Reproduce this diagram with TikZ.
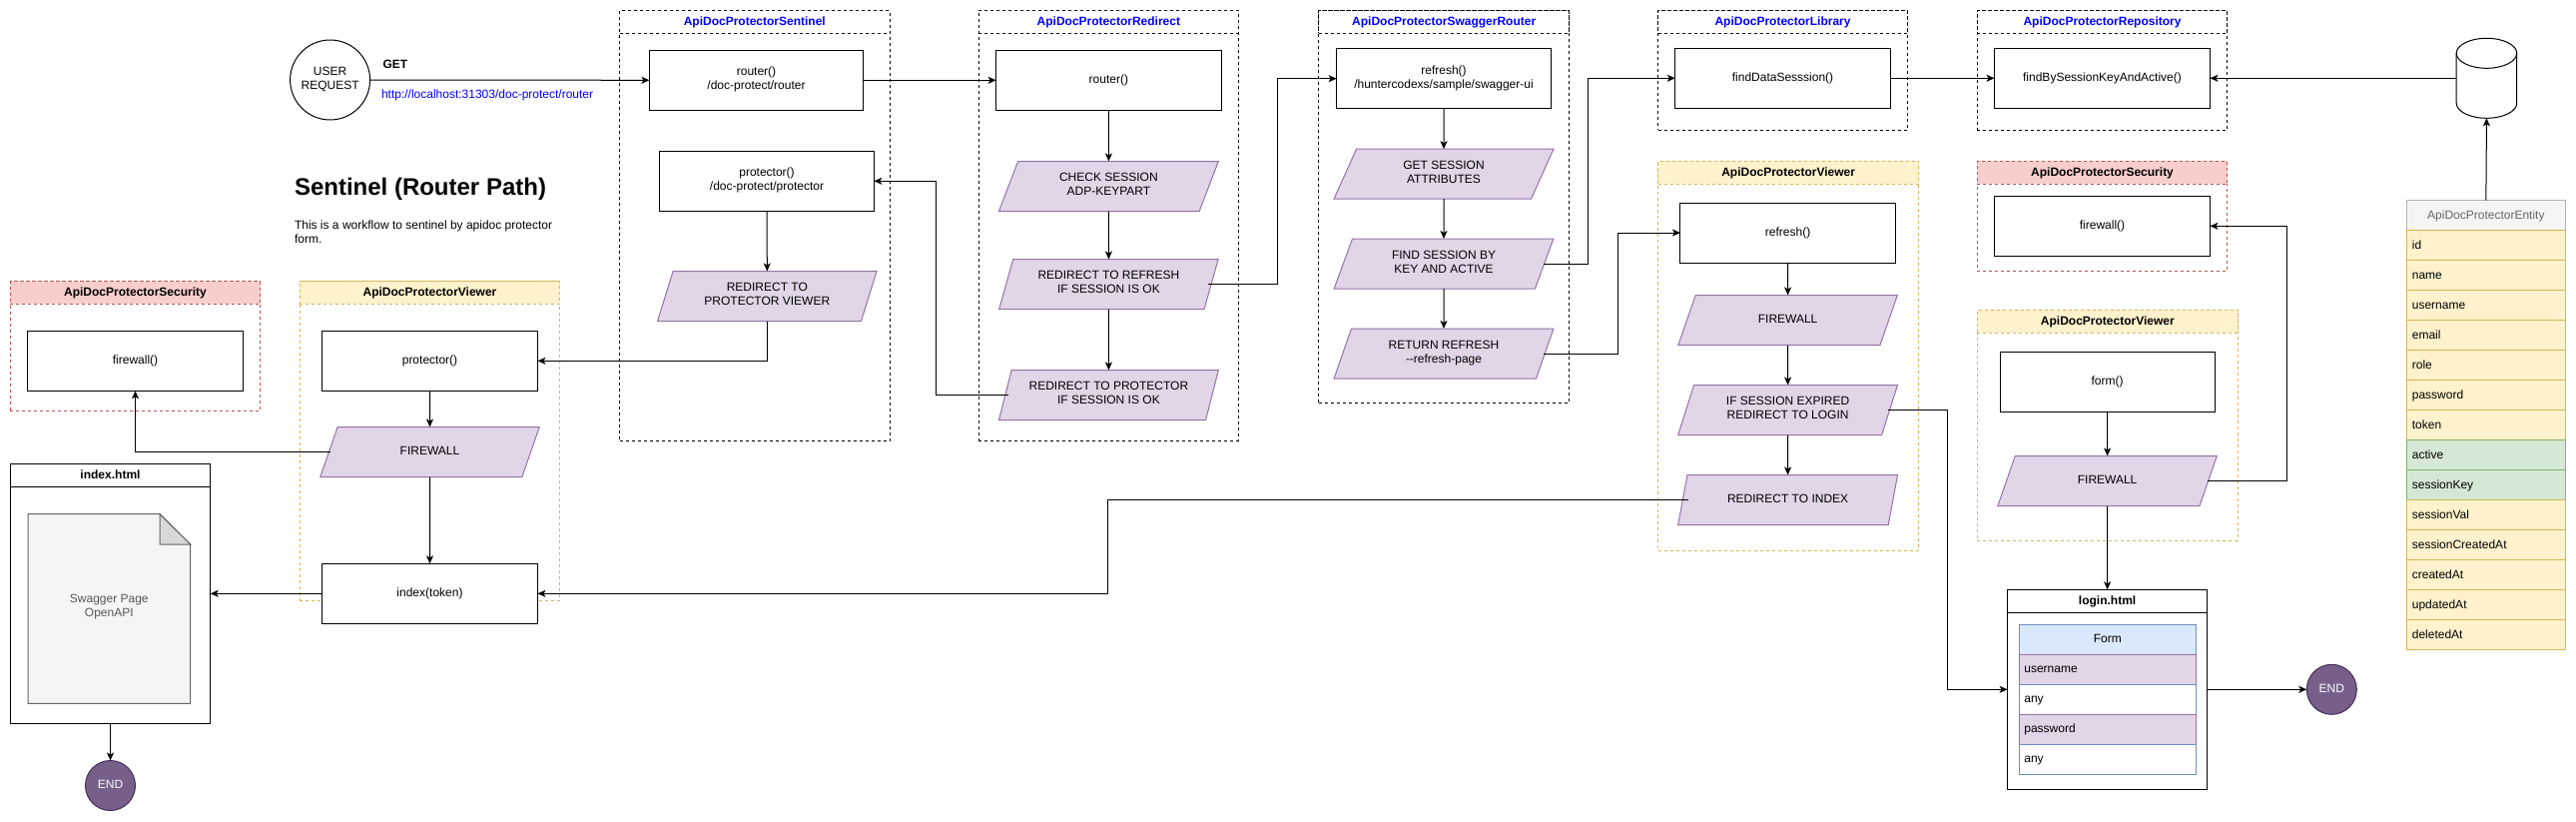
\documentclass[tikz,border=0pt]{standalone}
\usepackage{fontspec}
\setmainfont{Liberation Sans}
\usetikzlibrary{arrows.meta,shapes.geometric,shapes.misc}
\definecolor{purpfill}{HTML}{E1D5E7}
\definecolor{purpline}{HTML}{9673A6}
\definecolor{yelfill}{HTML}{FFF2CC}
\definecolor{yelline}{HTML}{D6B656}
\definecolor{redfill}{HTML}{F8CECC}
\definecolor{redline}{HTML}{B85450}
\definecolor{grnfill}{HTML}{D5E8D4}
\definecolor{grnline}{HTML}{82B366}
\definecolor{blufill}{HTML}{DAE8FC}
\definecolor{bluline}{HTML}{6C8EBF}
\definecolor{greyfill}{HTML}{F5F5F5}
\definecolor{greyline}{HTML}{666666}
\definecolor{endfill}{HTML}{76608A}
\definecolor{endline}{HTML}{432D57}
\newcommand\bst{\rule[-3.7pt]{0pt}{14pt}}
\newcommand\rst{\rule[-3pt]{0pt}{14pt}}
\tikzset{
  base/.style={inner sep=0pt,outer sep=0pt,align=center,font=\fontsize{12}{14}\selectfont,line width=1pt,
     execute at begin node=\bst,execute at end node=\bst},
  boxn/.style={base,draw=black,fill=white,rectangle},
  para/.style={base,draw=purpline,fill=purpfill,trapezium,trapezium left angle=68.2,trapezium right angle=111.8,
     trapezium stretches=true,minimum width=220pt,minimum height=50pt},
  bodyplain/.style={base,draw=black,rectangle,dash pattern=on 3pt off 3pt},
  bodyyel/.style={base,draw=yelline,rectangle,dash pattern=on 3pt off 3pt},
  bodyred/.style={base,draw=redline,rectangle,dash pattern=on 3pt off 3pt},
  titleplain/.style={bodyplain,text=blue},
  titleyel/.style={bodyyel,fill=yelfill},
  titlered/.style={bodyred,fill=redfill},
  endn/.style={base,circle,draw=endline,fill=endfill,text=white,minimum size=50pt},
  arr/.style={line width=1pt,draw=black,-{Stealth[length=8pt,width=7pt,inset=2pt]}},
  row/.style={base,rectangle,minimum width=158.9pt,minimum height=30pt,text width=148pt,align=left,
     execute at begin node=\rst,execute at end node=\rst},
  yrow/.style={row,draw=yelline,fill=yelfill},
  greenrow/.style={row,draw=grnline,fill=grnfill},
  frow/.style={base,rectangle,minimum width=176.7pt,minimum height=30pt,text width=167pt,align=left},
  fhead/.style={frow,draw=bluline,fill=blufill,align=center},
  fpurp/.style={frow,draw=purpline,fill=purpfill},
  fwhite/.style={frow,draw=bluline,fill=white},
}
% name, x1, y1, x2, ytitle, y2, kind, title
\newcommand\swimlane[8]{%
  \pgfmathsetmacro\swcx{(#2+#4)/2}%
  \pgfmathsetmacro\swcy{(#3+#6)/2}%
  \pgfmathsetmacro\swty{(#3+#5)/2}%
  \pgfmathsetmacro\swW{#4-#2}%
  \pgfmathsetmacro\swH{#6-#3}%
  \pgfmathsetmacro\swT{#5-#3}%
  \node[body#7,minimum width=\swW pt,minimum height=\swH pt] (#1) at (\swcx,\swcy) {};
  \node[title#7,minimum width=\swW pt,minimum height=\swT pt,font=\fontsize{12}{14}\selectfont\bfseries] (#1t) at (\swcx,\swty) {#8};
}
\begin{document}
\begin{tikzpicture}[x=1pt,y=-1pt]
\useasboundingbox (0,0) rectangle (2580,822);
% containers
\swimlane{cSent}{620.6}{10.3}{891}{33.3}{441.3}{plain}{ApiDocProtectorSentinel}
\swimlane{cRedir}{980.4}{10.3}{1240.4}{33.3}{441.3}{plain}{ApiDocProtectorRedirect}
\swimlane{cSwag}{1320.8}{10.3}{1571.6}{33.3}{403.3}{plain}{ApiDocProtectorSwaggerRouter}
\swimlane{cLib}{1660.7}{10.3}{1910.4}{33.3}{130.3}{plain}{ApiDocProtectorLibrary}
\swimlane{cRepo}{1980.4}{10.3}{2230.7}{33.3}{130.3}{plain}{ApiDocProtectorRepository}
\swimlane{cSecL}{10.3}{281.7}{260.6}{304.3}{411.3}{red}{ApiDocProtectorSecurity}
\swimlane{cViewL}{300.2}{281.7}{560.8}{304.3}{601.3}{yel}{ApiDocProtectorViewer}
\swimlane{cViewM}{1660.7}{161.3}{1921.6}{184.3}{551.3}{yel}{ApiDocProtectorViewer}
\swimlane{cSecR}{1980.4}{161.3}{2230.7}{184.3}{271.3}{red}{ApiDocProtectorSecurity}
\swimlane{cViewR}{1980.4}{310.3}{2241.3}{333.3}{541.3}{yel}{ApiDocProtectorViewer}

% start
\node[base,circle,draw=black,fill=white,minimum size=80pt] (user) at (330.6,80) {USER\\REQUEST};
\node[base,font=\fontsize{12}{14}\selectfont\bfseries,anchor=west] (getlabel) at (383.5,65.2) {GET};
\node[base,text=blue,anchor=west] (urllabel) at (382,94.9) {http://localhost:31303/doc-protect/router};
\node[base,anchor=west,font=\fontsize{24}{28}\selectfont\bfseries,execute at begin node={},execute at end node={}] (heading) at (295,189.5) {Sentinel (Router Path)};
\node[base,anchor=north west,align=left] (desc) at (295,220.9) {This is a workflow to sentinel by apidoc protector\\form.};

% sentinel
\node[boxn,minimum width=214.1pt,minimum height=60pt] (sRouter) at (757.5,80.3) {router()\\/doc-protect/router};
\node[boxn,minimum width=214.7pt,minimum height=60pt] (sProt) at (768,181.3) {protector()\\/doc-protect/protector};
\node[para] (sRedir) at (768.3,296.5) {REDIRECT TO\\PROTECTOR VIEWER};
% redirect
\node[boxn,minimum width=225.6pt,minimum height=60pt] (rRouter) at (1110.4,80.3) {router()};
\node[para] (rCheck) at (1110.4,186.5) {CHECK SESSION\\ADP-KEYPART};
\node[para] (rRefresh) at (1110.4,284.5) {REDIRECT TO REFRESH\\IF SESSION IS OK};
\node[para] (rProt) at (1110.4,395.5) {REDIRECT TO PROTECTOR\\IF SESSION IS OK};
% swagger router
\node[boxn,minimum width=214.7pt,minimum height=60pt] (wRefresh) at (1446,78.7) {refresh()\\/huntercodexs/sample/swagger-ui};
\node[para] (wGet) at (1446,174.2) {GET SESSION\\ATTRIBUTES};
\node[para] (wFind) at (1446,264) {FIND SESSION BY\\KEY AND ACTIVE};
\node[para] (wRet) at (1446,354) {RETURN REFRESH\\-\kern0pt-refresh-page};
% library, repository
\node[boxn,minimum width=215.3pt,minimum height=60pt] (lFind) at (1785.5,78.3) {findDataSesssion()};
\node[boxn,minimum width=215.9pt,minimum height=60pt] (pFind) at (2105.5,78.3) {findBySessionKeyAndActive()};
% left viewer, security
\node[boxn,minimum width=215.8pt,minimum height=60pt] (slFire) at (135.5,361.3) {firewall()};
\node[boxn,minimum width=215.9pt,minimum height=60pt] (vProt) at (430.5,361.3) {protector()};
\node[para] (vFire) at (430.5,452.5) {FIREWALL};
\node[boxn,minimum width=215.9pt,minimum height=60pt] (vIndex) at (430.5,594.3) {index(token)};
% index.html
\node[boxn,minimum width=200.4pt,minimum height=260pt] (idx) at (110.5,594.3) {};
\node[boxn,font=\fontsize{12}{14}\selectfont\bfseries,minimum width=200.4pt,minimum height=23pt] (idxt) at (110.5,475.8) {index.html};
\draw[line width=1pt,draw=greyline,fill=greyfill] (28,514.7) -- (160,514.7) -- (190.6,545) -- (190.6,704.3) -- (28,704.3) -- cycle;
\draw[line width=1pt,draw=greyline,fill=greyfill!88!black] (160,514.7) -- (160,545) -- (190.6,545) -- cycle;
\node[base,text=greyline!85!black] (docLabel) at (109.3,608.5) {Swagger Page\\OpenAPI};
\node[endn] (end1) at (110.5,786.5) {END};
% middle viewer
\node[boxn,minimum width=215.3pt,minimum height=60pt] (mRefresh) at (1790.6,233) {refresh()};
\node[para] (mFire) at (1790.6,320.5) {FIREWALL};
\node[para] (mIf) at (1790.6,410.5) {IF SESSION EXPIRED\\REDIRECT TO LOGIN};
\node[para] (mIndex) at (1790.6,500.5) {REDIRECT TO INDEX};
% right security, viewer
\node[boxn,minimum width=215.9pt,minimum height=60pt] (srFire) at (2105.5,226.3) {firewall()};
\node[boxn,minimum width=215.2pt,minimum height=60pt] (fForm) at (2110.6,382) {form()};
\node[para] (fFire) at (2110.6,481.5) {FIREWALL};
% login.html
\node[boxn,minimum width=200pt,minimum height=200pt] (login) at (2110.6,690.3) {};
\node[boxn,font=\fontsize{12}{14}\selectfont\bfseries,minimum width=200pt,minimum height=23pt] (logint) at (2110.6,601.8) {login.html};
\node[fhead] (fa) at (2110.85,640.5) {Form};
\node[fpurp] (fb) at (2110.85,670.5) {username};
\node[fwhite] (fc) at (2110.85,700.5) {any};
\node[fpurp] (fd) at (2110.85,730.5) {password};
\node[fwhite] (fe) at (2110.85,760.5) {any};
\node[endn] (end2) at (2335.3,690.3) {END};
% database
\draw[line width=1pt,fill=white] (2460.2,53.3) arc[x radius=30.25,y radius=15,start angle=180,end angle=360]
   -- (2520.7,103.3) arc[x radius=30.25,y radius=15,start angle=0,end angle=180] -- cycle;
\draw[line width=1pt] (2460.2,53.3) arc[x radius=30.25,y radius=15,start angle=180,end angle=0];
\node[inner sep=0pt,outer sep=0pt,minimum width=60.5pt,minimum height=80pt] (db) at (2490.45,78.3) {};
% entity
\node[row,align=center,draw=greyline!50!white,fill=greyfill,text=greyline] (ent) at (2489.85,215.7) {ApiDocProtectorEntity};
\node[yrow] (e1) at (2489.85,245.7) {id};
\node[yrow] (e2) at (2489.85,275.7) {name};
\node[yrow] (e3) at (2489.85,305.7) {username};
\node[yrow] (e4) at (2489.85,335.7) {email};
\node[yrow] (e5) at (2489.85,365.7) {role};
\node[yrow] (e6) at (2489.85,395.7) {password};
\node[yrow] (e7) at (2489.85,425.7) {token};
\node[greenrow] (e8) at (2489.85,455.7) {active};
\node[greenrow] (e9) at (2489.85,485.7) {sessionKey};
\node[yrow] (e10) at (2489.85,515.7) {sessionVal};
\node[yrow] (e11) at (2489.85,545.7) {sessionCreatedAt};
\node[yrow] (e12) at (2489.85,575.7) {createdAt};
\node[yrow] (e13) at (2489.85,605.7) {updatedAt};
\node[yrow] (e14) at (2489.85,635.7) {deletedAt};

% connectors
\draw[arr] (user.east) -- (sRouter.west);
\draw[arr] (sRouter.east) -- (rRouter.west);
\draw[arr] (sProt.south) -- (sRedir.north);
\draw[arr] (sRedir.south) |- (vProt.east);
\draw[arr] (vProt.south) -- (vFire.north);
\draw[arr] (vFire.south) -- (vIndex.north);
\draw[arr] ([xshift=-100pt]vFire.center) -| (slFire.south);
\draw[arr] (vIndex.west) -- (idx.east |- vIndex.west);
\draw[arr] (idx.south) -- (end1.north);
\draw[arr] (rRouter.south) -- (rCheck.north);
\draw[arr] (rCheck.south) -- (rRefresh.north);
\draw[arr] (rRefresh.south) -- (rProt.north);
\draw[arr] ([xshift=-100pt]rProt.center) -- ++(-72.5,0) |- (sProt.east);
\draw[arr] ([xshift=100pt]rRefresh.center) -- ++(69,0) |- (wRefresh.west);
\draw[arr] (wRefresh.south) -- (wGet.north);
\draw[arr] (wGet.south) -- (wFind.north);
\draw[arr] (wFind.south) -- (wRet.north);
\draw[arr] ([xshift=100pt]wFind.center) -- ++(44.6,0) |- (lFind.west);
\draw[arr] ([xshift=100pt]wRet.center) -- ++(74.4,0) |- (mRefresh.west);
\draw[arr] (lFind.east) -- (pFind.west);
\draw[arr] (db.west) -- (pFind.east);
\draw[arr] (ent.north) -- (db.south);
\draw[arr] (mRefresh.south) -- (mFire.north);
\draw[arr] (mFire.south) -- (mIf.north);
\draw[arr] (mIf.south) -- (mIndex.north);
\draw[arr] ([xshift=-100pt]mIndex.center) -- ++(-581.6,0) |- (vIndex.east);
\draw[arr] ([xshift=100pt]mIf.center) -- ++(59.5,0) |- (login.west);
\draw[arr] (fForm.south) -- (fFire.north);
\draw[arr] (fFire.south) -- (logint.north);
\draw[arr] ([xshift=100pt]fFire.center) -- ++(80,0) |- (srFire.east);
\draw[arr] (login.east) -- (end2.west);
\end{tikzpicture}
\end{document}
